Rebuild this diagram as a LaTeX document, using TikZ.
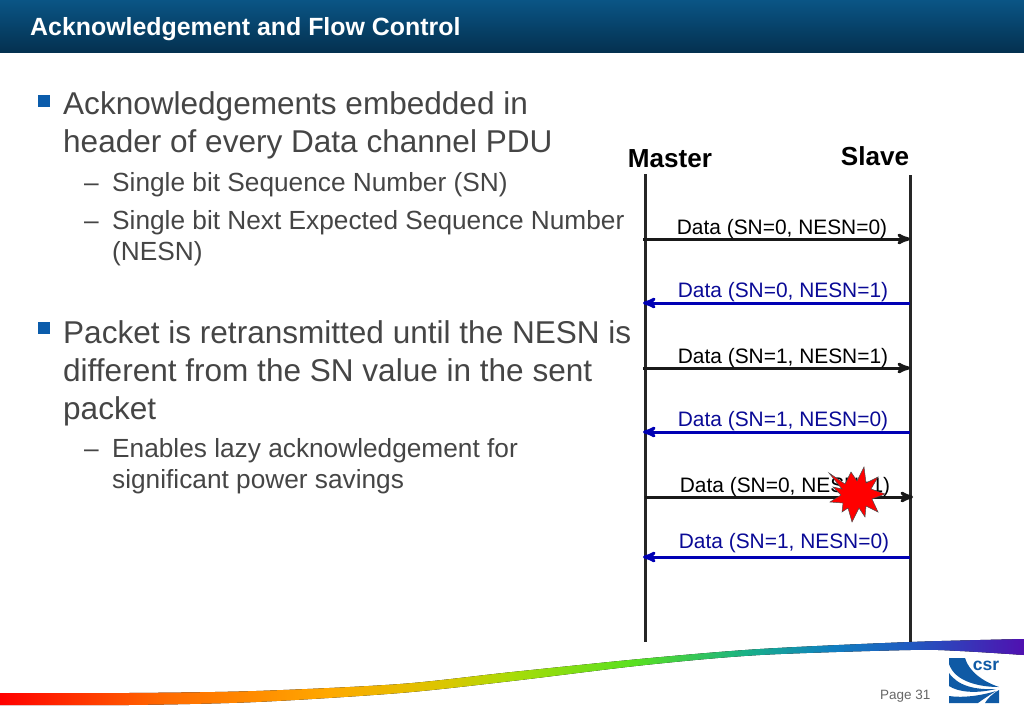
\documentclass[tikz,border=0pt]{standalone}
\usepackage{fontspec}
\setmainfont{Liberation Sans}
\definecolor{bandred}{HTML}{FF0000}
\definecolor{bandorange}{HTML}{FF6A00}
\definecolor{bandamber}{HTML}{FFA800}
\definecolor{bandyellow}{HTML}{D8C800}
\definecolor{bandlime}{HTML}{A8DC08}
\definecolor{bandgreen}{HTML}{58E020}
\definecolor{bandteal}{HTML}{18B088}
\definecolor{bandsky}{HTML}{1080C0}
\definecolor{bandblue}{HTML}{2058C0}
\definecolor{bandviolet}{HTML}{5010B0}
\pgfdeclarehorizontalshading{rainbowband}{100bp}{color(0bp)=(bandred);color(25bp)=(bandred);
  color(33bp)=(bandorange);color(41bp)=(bandamber);color(47bp)=(bandyellow);color(50bp)=(bandlime);
  color(56bp)=(bandgreen);color(61.5bp)=(bandteal);color(65.5bp)=(bandsky);color(69.5bp)=(bandblue);
  color(75bp)=(bandviolet);color(100bp)=(bandviolet)}
\definecolor{headtop}{HTML}{0A5585}
\definecolor{headbot}{HTML}{04304F}
\definecolor{bodygray}{HTML}{454545}
\definecolor{bulletblue}{HTML}{0B5CAB}
\definecolor{replyblue}{HTML}{0000B4}
\definecolor{replytext}{HTML}{0A0A96}
\definecolor{logoblue}{HTML}{0F5AA5}
\usetikzlibrary{arrows}
\begin{document}
\begin{tikzpicture}[x=1pt,y=-1pt,>=stealth',
  title text/.style={anchor=base west,inner sep=0pt,text=white,font=\fontsize{24.9}{27}\selectfont\bfseries},
  big text/.style={anchor=base west,inner sep=0pt,text=bodygray,font=\fontsize{31.55}{38}\selectfont},
  small text/.style={anchor=base west,inner sep=0pt,text=bodygray,font=\fontsize{26.25}{31}\selectfont},
  big bullet/.style={fill=bulletblue,draw=none,minimum size=11.5pt,inner sep=0pt},
  role text/.style={anchor=base,inner sep=0pt,font=\fontsize{26.1}{30}\selectfont\bfseries},
  data text/.style={anchor=base,inner sep=0pt,font=\fontsize{20.9}{24}\selectfont},
  life line/.style={line width=3pt,draw=black!85},
  send/.style={->,line width=3pt,draw=black!90},
  reply/.style={->,line width=3pt,draw=replyblue}]
  \useasboundingbox (0,0) rectangle (1024,709);
  % header
  \fill[top color=headtop,bottom color=headbot] (0,0) rectangle (1024,53);
  \node[title text] (title) at (30,36) {Acknowledgement and Flow Control};
  % bullets
  \node[big bullet] (b1) at (44,101) {};
  \node[big text] (t1) at (63,114) {Acknowledgements embedded in};
  \node[big text] (t2) at (63,152) {header of every Data channel PDU};
  \node[small text] (d1) at (84,191) {–};
  \node[small text] (t3) at (112,191) {Single bit Sequence Number (SN)};
  \node[small text] (d2) at (84,229) {–};
  \node[small text] (t4) at (112,229) {Single bit Next Expected Sequence Number};
  \node[small text] (t5) at (112,260.5) {(NESN)};
  \node[big bullet] (b2) at (44,328) {};
  \node[big text] (t6) at (63,343) {Packet is retransmitted until the NESN is};
  \node[big text] (t7) at (63,381) {different from the SN value in the sent};
  \node[big text] (t8) at (63,419) {packet};
  \node[small text] (d3) at (84,457) {–};
  \node[small text] (t9) at (112,457) {Enables lazy acknowledgement for};
  \node[small text] (t10) at (112,488) {significant power savings};
  % sequence chart
  \node[role text] (master) at (670,167) {Master};
  \node[role text] (slave) at (875,165) {Slave};
  \coordinate (mtop) at (645,174);
  \coordinate (mbot) at (645,642);
  \coordinate (stop) at (910,175);
  \coordinate (sbot) at (910,642);
  \draw[life line] (mtop) -- (mbot);
  \draw[life line] (stop) -- (sbot);
  \coordinate (m1) at (643,239);
  \coordinate (s1) at (910,239);
  \coordinate (m2) at (643,303);
  \coordinate (s2) at (910,303);
  \coordinate (m3) at (643,368);
  \coordinate (s3) at (910,368);
  \coordinate (m4) at (643,432);
  \coordinate (s4) at (910,432);
  \coordinate (m5) at (645,497);
  \coordinate (s5) at (913,497);
  \coordinate (m6) at (643,557);
  \coordinate (s6) at (910,557);
  \draw[send] (m1) -- (s1);
  \draw[reply] (s2) -- (m2);
  \draw[send] (m3) -- (s3);
  \draw[reply] (s4) -- (m4);
  \draw[send] (m5) -- (s5);
  \draw[reply] (s6) -- (m6);
  \node[data text] (l1) at (782,234) {Data (SN=0, NESN=0)};
  \node[data text,text=replytext] (l2) at (783,297) {Data (SN=0, NESN=1)};
  \node[data text] (l3) at (783,363) {Data (SN=1, NESN=1)};
  \node[data text,text=replytext] (l4) at (783,426) {Data (SN=1, NESN=0)};
  \node[data text] (l5) at (785,492) {Data (SN=0, NESN=1)};
  \node[data text,text=replytext] (l6) at (784,548) {Data (SN=1, NESN=0)};
  % lost packet
  \draw[fill=red,draw=black!70,line width=0.5pt] (829,473) -- (845,484) -- (851,472) -- (857,481) -- (864,467)
    -- (866,483) -- (878,477) -- (871,489) -- (885,494) -- (872,499) -- (878,512) -- (866,506) -- (865,517)
    -- (859,508) -- (852,522) -- (848,508) -- (842,512) -- (843,503) -- (830,502) -- (841,495) -- (833,487)
    -- (842,489) -- cycle;
  % bottom band
  \fill[shading=rainbowband] plot[smooth] coordinates {(0,693) (128,693) (256,691) (400,684) (512,672) (645,658.5)
      (760,649) (910,642) (1024,639)}
    -- plot[smooth] coordinates {(1024,655) (960,651) (910,650) (760,655) (645,665) (512,681) (400,693) (256,702)
      (128,705) (0,705)} -- cycle;
  % footer
  \node[anchor=base west,inner sep=0pt,text=black!60,font=\fontsize{13.5}{16}\selectfont] (page) at (880,699) {Page 31};
  % logo
  \fill[logoblue] (949,658) -- (965,658) .. controls (969,672) and (984,682) .. (999,687)
    .. controls (980,687) and (955,682) .. (949,664) -- cycle;
  \fill[logoblue] (949,673) .. controls (958,686) and (975,690) .. (996,689)
    .. controls (975,694) and (958,692) .. (949,686) -- cycle;
  \fill[logoblue] (999,690) -- (999,703) -- (985,703) .. controls (988,698) and (992,694) .. (999,690) -- cycle;
  \fill[logoblue] (949,696) .. controls (962,698) and (980,696) .. (996,691)
    .. controls (988,696) and (982,700) .. (978,703) -- (949,703) -- cycle;
  \node[inner sep=0pt,text=logoblue,font=\fontsize{17.5}{18}\selectfont\bfseries] (csr) at (986,665.5) {csr};
\end{tikzpicture}
\end{document}
